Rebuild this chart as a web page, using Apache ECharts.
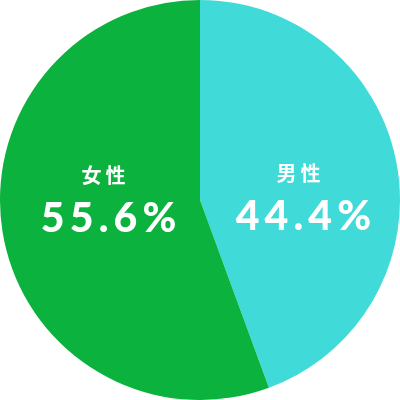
<!DOCTYPE html>
<html>
<head>
<meta charset="utf-8">
<script src="https://cdn.jsdelivr.net/npm/echarts@6/dist/echarts.min.js"></script>
<style>
	html, body { margin: 0; padding: 0; background: #fff; }
	#main { width: 400px; height: 400px; }
</style>
</head>
<body>
<div id="main"></div>
<script>
	// 性别比例
	var names = ['男性', '女性'];
	var values = [44.4, 55.6];
	var colors = ['#40dbd8', '#0bb23e'];
	// 标签偏移(让两个标签处于同一高度)
	var labelOffsets = [[-3, 15], [5, -19]];

	var pieData = [];
	for (var i = 0; i < names.length; i++) {
		pieData.push({
			name: names[i],
			value: values[i],
			itemStyle: { color: colors[i] },
			label: { offset: labelOffsets[i] }
		});
	}

	// 字间距
	function spaced(str) {
		return str.split('').join('\u2009');
	}

	var chart = echarts.init(document.getElementById('main'));
	chart.setOption({
		animation: false,
		series: [{
			type: 'pie',
			center: ['50%', '50%'],
			radius: ['0%', '100%'],
			startAngle: 90,
			clockwise: true,
			silent: true,
			data: pieData,
			itemStyle: { borderWidth: 0 },
			label: {
				show: true,
				position: 'inside',
				formatter: function(p) {
					return '{a|' + spaced(p.name) + '}\n{b|' + spaced(p.value.toFixed(1) + '%') + '}';
				},
				rich: {
					a: {
						color: '#fff',
						fontSize: 20,
						fontWeight: 'bold',
						fontFamily: "'Noto Sans CJK JP', sans-serif",
						lineHeight: 40,
						align: 'center'
					},
					b: {
						color: '#fff',
						fontSize: 41,
						fontWeight: 900,
						fontFamily: "Lato, 'Noto Sans', sans-serif",
						lineHeight: 48,
						padding: [0, 0, 0, 10],
						align: 'center'
					}
				}
			},
			labelLine: { show: false }
		}]
	});
</script>
</body>
</html>
